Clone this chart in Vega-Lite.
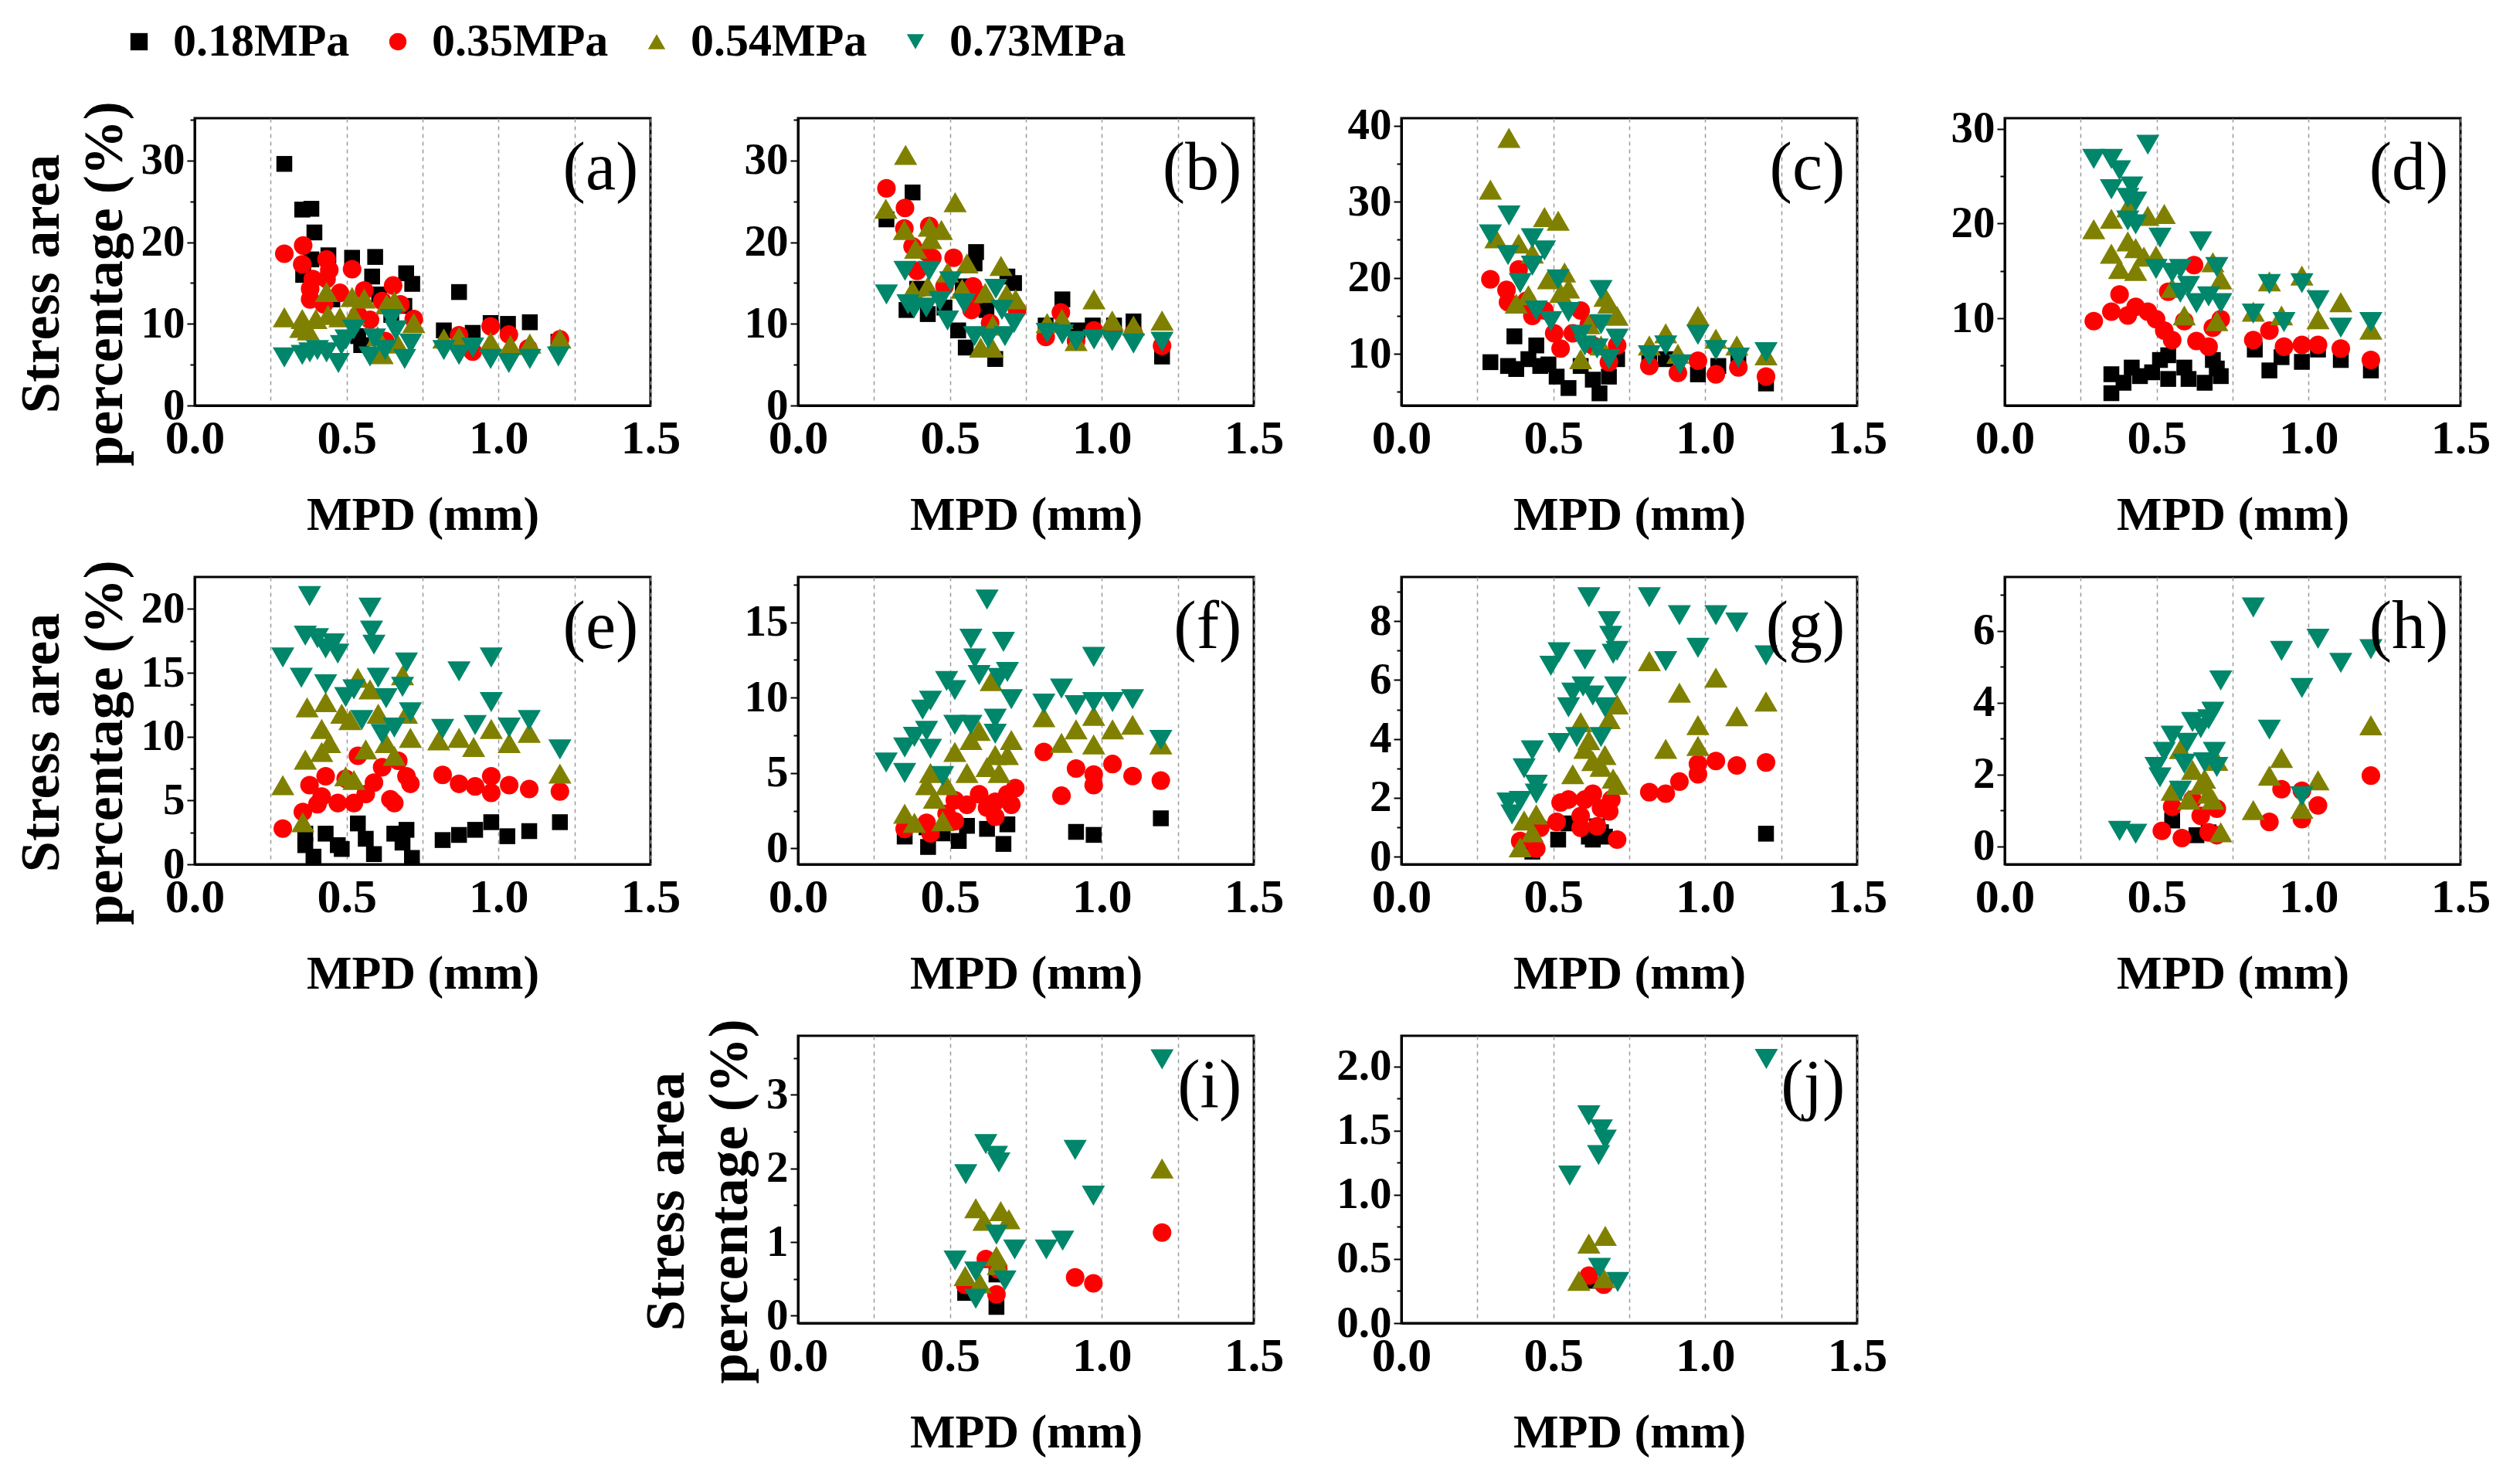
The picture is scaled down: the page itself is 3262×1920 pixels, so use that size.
{
  "$schema": "https://vega.github.io/schema/vega-lite/v6.json",
  "description": "Stress area percentage against MPD for four tyre pressures, panels (a) to (j).",
  "background": "white",
  "padding": {"left": 15, "top": 24, "right": 5, "bottom": 5},
  "datasets": {
    "pts": [
      {"panel":"a","pressure":"0.18MPa","mpd":0.295,"pct":29.6},{"panel":"a","pressure":"0.18MPa","mpd":0.354,"pct":24.0},{"panel":"a","pressure":"0.18MPa","mpd":0.384,"pct":24.1},{"panel":"a","pressure":"0.18MPa","mpd":0.394,"pct":21.2},{"panel":"a","pressure":"0.18MPa","mpd":0.384,"pct":17.9},{"panel":"a","pressure":"0.18MPa","mpd":0.357,"pct":16.0},{"panel":"a","pressure":"0.18MPa","mpd":0.44,"pct":18.4},{"panel":"a","pressure":"0.18MPa","mpd":0.518,"pct":18.1},{"panel":"a","pressure":"0.18MPa","mpd":0.594,"pct":18.2},{"panel":"a","pressure":"0.18MPa","mpd":0.584,"pct":15.8},{"panel":"a","pressure":"0.18MPa","mpd":0.607,"pct":13.6},{"panel":"a","pressure":"0.18MPa","mpd":0.696,"pct":16.2},{"panel":"a","pressure":"0.18MPa","mpd":0.716,"pct":14.9},{"panel":"a","pressure":"0.18MPa","mpd":0.69,"pct":12.2},{"panel":"a","pressure":"0.18MPa","mpd":0.87,"pct":13.9},{"panel":"a","pressure":"0.18MPa","mpd":0.82,"pct":9.2},{"panel":"a","pressure":"0.18MPa","mpd":0.915,"pct":8.9},{"panel":"a","pressure":"0.18MPa","mpd":0.974,"pct":10.1},{"panel":"a","pressure":"0.18MPa","mpd":1.031,"pct":10.0},{"panel":"a","pressure":"0.18MPa","mpd":1.103,"pct":10.2},{"panel":"a","pressure":"0.18MPa","mpd":1.197,"pct":7.8},{"panel":"a","pressure":"0.18MPa","mpd":0.548,"pct":7.4},{"panel":"a","pressure":"0.18MPa","mpd":0.538,"pct":8.5},{"panel":"a","pressure":"0.18MPa","mpd":0.647,"pct":11.1},{"panel":"a","pressure":"0.18MPa","mpd":0.453,"pct":13.0},
      {"panel":"a","pressure":"0.35MPa","mpd":0.295,"pct":18.6},{"panel":"a","pressure":"0.35MPa","mpd":0.357,"pct":19.6},{"panel":"a","pressure":"0.35MPa","mpd":0.354,"pct":17.3},{"panel":"a","pressure":"0.35MPa","mpd":0.434,"pct":17.9},{"panel":"a","pressure":"0.35MPa","mpd":0.443,"pct":16.6},{"panel":"a","pressure":"0.35MPa","mpd":0.518,"pct":16.7},{"panel":"a","pressure":"0.35MPa","mpd":0.389,"pct":15.5},{"panel":"a","pressure":"0.35MPa","mpd":0.434,"pct":15.5},{"panel":"a","pressure":"0.35MPa","mpd":0.38,"pct":14.3},{"panel":"a","pressure":"0.35MPa","mpd":0.38,"pct":13.0},{"panel":"a","pressure":"0.35MPa","mpd":0.478,"pct":13.8},{"panel":"a","pressure":"0.35MPa","mpd":0.558,"pct":14.1},{"panel":"a","pressure":"0.35MPa","mpd":0.653,"pct":14.7},{"panel":"a","pressure":"0.35MPa","mpd":0.617,"pct":12.8},{"panel":"a","pressure":"0.35MPa","mpd":0.677,"pct":12.4},{"panel":"a","pressure":"0.35MPa","mpd":0.721,"pct":10.6},{"panel":"a","pressure":"0.35MPa","mpd":0.577,"pct":10.5},{"panel":"a","pressure":"0.35MPa","mpd":0.87,"pct":8.6},{"panel":"a","pressure":"0.35MPa","mpd":0.974,"pct":9.7},{"panel":"a","pressure":"0.35MPa","mpd":1.034,"pct":8.7},{"panel":"a","pressure":"0.35MPa","mpd":0.915,"pct":6.6},{"panel":"a","pressure":"0.35MPa","mpd":1.098,"pct":7.0},{"panel":"a","pressure":"0.35MPa","mpd":1.202,"pct":8.1},{"panel":"a","pressure":"0.35MPa","mpd":0.425,"pct":12.4},{"panel":"a","pressure":"0.35MPa","mpd":0.538,"pct":11.1},{"panel":"a","pressure":"0.35MPa","mpd":0.627,"pct":7.9},
      {"panel":"a","pressure":"0.54MPa","mpd":0.295,"pct":10.8},{"panel":"a","pressure":"0.54MPa","mpd":0.354,"pct":10.6},{"panel":"a","pressure":"0.54MPa","mpd":0.349,"pct":9.5},{"panel":"a","pressure":"0.54MPa","mpd":0.374,"pct":9.2},{"panel":"a","pressure":"0.54MPa","mpd":0.399,"pct":10.6},{"panel":"a","pressure":"0.54MPa","mpd":0.434,"pct":13.9},{"panel":"a","pressure":"0.54MPa","mpd":0.439,"pct":11.1},{"panel":"a","pressure":"0.54MPa","mpd":0.478,"pct":10.8},{"panel":"a","pressure":"0.54MPa","mpd":0.518,"pct":13.3},{"panel":"a","pressure":"0.54MPa","mpd":0.558,"pct":13.1},{"panel":"a","pressure":"0.54MPa","mpd":0.523,"pct":11.1},{"panel":"a","pressure":"0.54MPa","mpd":0.602,"pct":8.5},{"panel":"a","pressure":"0.54MPa","mpd":0.632,"pct":12.4},{"panel":"a","pressure":"0.54MPa","mpd":0.657,"pct":12.8},{"panel":"a","pressure":"0.54MPa","mpd":0.667,"pct":7.6},{"panel":"a","pressure":"0.54MPa","mpd":0.721,"pct":10.1},{"panel":"a","pressure":"0.54MPa","mpd":0.617,"pct":6.3},{"panel":"a","pressure":"0.54MPa","mpd":0.82,"pct":8.2},{"panel":"a","pressure":"0.54MPa","mpd":0.87,"pct":8.4},{"panel":"a","pressure":"0.54MPa","mpd":0.974,"pct":7.8},{"panel":"a","pressure":"0.54MPa","mpd":1.039,"pct":7.4},{"panel":"a","pressure":"0.54MPa","mpd":1.103,"pct":7.6},{"panel":"a","pressure":"0.54MPa","mpd":1.202,"pct":8.2},
      {"panel":"a","pressure":"0.73MPa","mpd":0.295,"pct":5.9},{"panel":"a","pressure":"0.73MPa","mpd":0.354,"pct":6.2},{"panel":"a","pressure":"0.73MPa","mpd":0.379,"pct":6.5},{"panel":"a","pressure":"0.73MPa","mpd":0.404,"pct":6.8},{"panel":"a","pressure":"0.73MPa","mpd":0.434,"pct":6.5},{"panel":"a","pressure":"0.73MPa","mpd":0.473,"pct":5.2},{"panel":"a","pressure":"0.73MPa","mpd":0.483,"pct":7.4},{"panel":"a","pressure":"0.73MPa","mpd":0.523,"pct":9.3},{"panel":"a","pressure":"0.73MPa","mpd":0.498,"pct":8.1},{"panel":"a","pressure":"0.73MPa","mpd":0.577,"pct":6.0},{"panel":"a","pressure":"0.73MPa","mpd":0.592,"pct":8.2},{"panel":"a","pressure":"0.73MPa","mpd":0.627,"pct":6.8},{"panel":"a","pressure":"0.73MPa","mpd":0.647,"pct":10.6},{"panel":"a","pressure":"0.73MPa","mpd":0.662,"pct":9.2},{"panel":"a","pressure":"0.73MPa","mpd":0.691,"pct":5.7},{"panel":"a","pressure":"0.73MPa","mpd":0.711,"pct":7.6},{"panel":"a","pressure":"0.73MPa","mpd":0.82,"pct":6.8},{"panel":"a","pressure":"0.73MPa","mpd":0.87,"pct":6.2},{"panel":"a","pressure":"0.73MPa","mpd":0.915,"pct":7.1},{"panel":"a","pressure":"0.73MPa","mpd":0.974,"pct":5.7},{"panel":"a","pressure":"0.73MPa","mpd":1.034,"pct":5.2},{"panel":"a","pressure":"0.73MPa","mpd":1.103,"pct":5.7},{"panel":"a","pressure":"0.73MPa","mpd":1.197,"pct":6.0},

      {"panel":"b","pressure":"0.18MPa","mpd":0.377,"pct":26.1},{"panel":"b","pressure":"0.18MPa","mpd":0.291,"pct":22.8},{"panel":"b","pressure":"0.18MPa","mpd":0.586,"pct":18.8},{"panel":"b","pressure":"0.18MPa","mpd":0.581,"pct":17.4},{"panel":"b","pressure":"0.18MPa","mpd":0.711,"pct":15.0},{"panel":"b","pressure":"0.18MPa","mpd":0.689,"pct":15.8},{"panel":"b","pressure":"0.18MPa","mpd":0.357,"pct":11.7},{"panel":"b","pressure":"0.18MPa","mpd":0.427,"pct":11.2},{"panel":"b","pressure":"0.18MPa","mpd":0.482,"pct":12.0},{"panel":"b","pressure":"0.18MPa","mpd":0.527,"pct":9.2},{"panel":"b","pressure":"0.18MPa","mpd":0.552,"pct":7.1},{"panel":"b","pressure":"0.18MPa","mpd":0.649,"pct":5.7},{"panel":"b","pressure":"0.18MPa","mpd":0.87,"pct":13.0},{"panel":"b","pressure":"0.18MPa","mpd":0.815,"pct":9.8},{"panel":"b","pressure":"0.18MPa","mpd":0.92,"pct":9.2},{"panel":"b","pressure":"0.18MPa","mpd":0.97,"pct":9.8},{"panel":"b","pressure":"0.18MPa","mpd":1.04,"pct":9.8},{"panel":"b","pressure":"0.18MPa","mpd":1.104,"pct":10.3},{"panel":"b","pressure":"0.18MPa","mpd":1.198,"pct":6.0},{"panel":"b","pressure":"0.18MPa","mpd":0.392,"pct":14.3},{"panel":"b","pressure":"0.18MPa","mpd":0.542,"pct":14.6},{"panel":"b","pressure":"0.18MPa","mpd":0.62,"pct":11.7},
      {"panel":"b","pressure":"0.35MPa","mpd":0.291,"pct":26.6},{"panel":"b","pressure":"0.35MPa","mpd":0.352,"pct":24.2},{"panel":"b","pressure":"0.35MPa","mpd":0.35,"pct":21.7},{"panel":"b","pressure":"0.35MPa","mpd":0.432,"pct":22.0},{"panel":"b","pressure":"0.35MPa","mpd":0.377,"pct":19.5},{"panel":"b","pressure":"0.35MPa","mpd":0.422,"pct":18.8},{"panel":"b","pressure":"0.35MPa","mpd":0.512,"pct":18.1},{"panel":"b","pressure":"0.35MPa","mpd":0.392,"pct":16.5},{"panel":"b","pressure":"0.35MPa","mpd":0.576,"pct":14.6},{"panel":"b","pressure":"0.35MPa","mpd":0.482,"pct":14.6},{"panel":"b","pressure":"0.35MPa","mpd":0.596,"pct":13.6},{"panel":"b","pressure":"0.35MPa","mpd":0.721,"pct":11.7},{"panel":"b","pressure":"0.35MPa","mpd":0.632,"pct":10.1},{"panel":"b","pressure":"0.35MPa","mpd":0.571,"pct":11.7},{"panel":"b","pressure":"0.35MPa","mpd":0.865,"pct":11.4},{"panel":"b","pressure":"0.35MPa","mpd":0.815,"pct":8.4},{"panel":"b","pressure":"0.35MPa","mpd":0.915,"pct":7.9},{"panel":"b","pressure":"0.35MPa","mpd":0.974,"pct":9.2},{"panel":"b","pressure":"0.35MPa","mpd":1.034,"pct":8.9},{"panel":"b","pressure":"0.35MPa","mpd":1.104,"pct":8.9},{"panel":"b","pressure":"0.35MPa","mpd":1.198,"pct":7.3},{"panel":"b","pressure":"0.35MPa","mpd":0.442,"pct":18.1},
      {"panel":"b","pressure":"0.54MPa","mpd":0.354,"pct":30.7},{"panel":"b","pressure":"0.54MPa","mpd":0.289,"pct":24.1},{"panel":"b","pressure":"0.54MPa","mpd":0.517,"pct":24.9},{"panel":"b","pressure":"0.54MPa","mpd":0.35,"pct":21.5},{"panel":"b","pressure":"0.54MPa","mpd":0.432,"pct":21.9},{"panel":"b","pressure":"0.54MPa","mpd":0.472,"pct":21.5},{"panel":"b","pressure":"0.54MPa","mpd":0.437,"pct":20.4},{"panel":"b","pressure":"0.54MPa","mpd":0.387,"pct":19.2},{"panel":"b","pressure":"0.54MPa","mpd":0.556,"pct":17.4},{"panel":"b","pressure":"0.54MPa","mpd":0.668,"pct":17.1},{"panel":"b","pressure":"0.54MPa","mpd":0.492,"pct":16.3},{"panel":"b","pressure":"0.54MPa","mpd":0.377,"pct":14.1},{"panel":"b","pressure":"0.54MPa","mpd":0.427,"pct":14.6},{"panel":"b","pressure":"0.54MPa","mpd":0.54,"pct":14.3},{"panel":"b","pressure":"0.54MPa","mpd":0.616,"pct":13.8},{"panel":"b","pressure":"0.54MPa","mpd":0.686,"pct":13.6},{"panel":"b","pressure":"0.54MPa","mpd":0.716,"pct":13.0},{"panel":"b","pressure":"0.54MPa","mpd":0.641,"pct":9.8},{"panel":"b","pressure":"0.54MPa","mpd":0.601,"pct":7.1},{"panel":"b","pressure":"0.54MPa","mpd":0.639,"pct":7.1},{"panel":"b","pressure":"0.54MPa","mpd":0.82,"pct":10.1},{"panel":"b","pressure":"0.54MPa","mpd":0.869,"pct":10.6},{"panel":"b","pressure":"0.54MPa","mpd":0.974,"pct":13.0},{"panel":"b","pressure":"0.54MPa","mpd":1.034,"pct":10.4},{"panel":"b","pressure":"0.54MPa","mpd":1.104,"pct":9.8},{"panel":"b","pressure":"0.54MPa","mpd":1.198,"pct":10.4},{"panel":"b","pressure":"0.54MPa","mpd":0.915,"pct":7.9},
      {"panel":"b","pressure":"0.73MPa","mpd":0.291,"pct":13.6},{"panel":"b","pressure":"0.73MPa","mpd":0.352,"pct":16.5},{"panel":"b","pressure":"0.73MPa","mpd":0.432,"pct":16.5},{"panel":"b","pressure":"0.73MPa","mpd":0.502,"pct":15.2},{"panel":"b","pressure":"0.73MPa","mpd":0.362,"pct":12.4},{"panel":"b","pressure":"0.73MPa","mpd":0.382,"pct":11.9},{"panel":"b","pressure":"0.73MPa","mpd":0.422,"pct":12.0},{"panel":"b","pressure":"0.73MPa","mpd":0.467,"pct":12.8},{"panel":"b","pressure":"0.73MPa","mpd":0.492,"pct":10.4},{"panel":"b","pressure":"0.73MPa","mpd":0.547,"pct":12.5},{"panel":"b","pressure":"0.73MPa","mpd":0.581,"pct":8.5},{"panel":"b","pressure":"0.73MPa","mpd":0.626,"pct":8.2},{"panel":"b","pressure":"0.73MPa","mpd":0.651,"pct":14.3},{"panel":"b","pressure":"0.73MPa","mpd":0.671,"pct":11.7},{"panel":"b","pressure":"0.73MPa","mpd":0.681,"pct":8.5},{"panel":"b","pressure":"0.73MPa","mpd":0.711,"pct":10.1},{"panel":"b","pressure":"0.73MPa","mpd":0.82,"pct":8.9},{"panel":"b","pressure":"0.73MPa","mpd":0.87,"pct":8.7},{"panel":"b","pressure":"0.73MPa","mpd":0.915,"pct":7.9},{"panel":"b","pressure":"0.73MPa","mpd":0.974,"pct":8.1},{"panel":"b","pressure":"0.73MPa","mpd":1.034,"pct":7.9},{"panel":"b","pressure":"0.73MPa","mpd":1.104,"pct":7.6},{"panel":"b","pressure":"0.73MPa","mpd":1.198,"pct":7.8},

      {"panel":"c","pressure":"0.18MPa","mpd":0.293,"pct":8.9},{"panel":"c","pressure":"0.18MPa","mpd":0.351,"pct":8.4},{"panel":"c","pressure":"0.18MPa","mpd":0.372,"pct":12.3},{"panel":"c","pressure":"0.18MPa","mpd":0.418,"pct":9.3},{"panel":"c","pressure":"0.18MPa","mpd":0.444,"pct":11.1},{"panel":"c","pressure":"0.18MPa","mpd":0.484,"pct":8.6},{"panel":"c","pressure":"0.18MPa","mpd":0.511,"pct":7.0},{"panel":"c","pressure":"0.18MPa","mpd":0.55,"pct":5.5},{"panel":"c","pressure":"0.18MPa","mpd":0.378,"pct":8.0},{"panel":"c","pressure":"0.18MPa","mpd":0.63,"pct":6.6},{"panel":"c","pressure":"0.18MPa","mpd":0.652,"pct":4.8},{"panel":"c","pressure":"0.18MPa","mpd":0.683,"pct":7.0},{"panel":"c","pressure":"0.18MPa","mpd":0.71,"pct":9.3},{"panel":"c","pressure":"0.18MPa","mpd":0.59,"pct":8.4},{"panel":"c","pressure":"0.18MPa","mpd":0.457,"pct":8.4},{"panel":"c","pressure":"0.18MPa","mpd":0.816,"pct":9.1},{"panel":"c","pressure":"0.18MPa","mpd":0.87,"pct":9.3},{"panel":"c","pressure":"0.18MPa","mpd":0.976,"pct":7.3},{"panel":"c","pressure":"0.18MPa","mpd":1.043,"pct":8.4},{"panel":"c","pressure":"0.18MPa","mpd":1.109,"pct":9.3},{"panel":"c","pressure":"0.18MPa","mpd":1.2,"pct":6.1},
      {"panel":"c","pressure":"0.35MPa","mpd":0.293,"pct":19.8},{"panel":"c","pressure":"0.35MPa","mpd":0.346,"pct":18.4},{"panel":"c","pressure":"0.35MPa","mpd":0.351,"pct":16.8},{"panel":"c","pressure":"0.35MPa","mpd":0.386,"pct":21.1},{"panel":"c","pressure":"0.35MPa","mpd":0.412,"pct":17.0},{"panel":"c","pressure":"0.35MPa","mpd":0.431,"pct":15.0},{"panel":"c","pressure":"0.35MPa","mpd":0.471,"pct":15.7},{"panel":"c","pressure":"0.35MPa","mpd":0.503,"pct":12.7},{"panel":"c","pressure":"0.35MPa","mpd":0.524,"pct":10.7},{"panel":"c","pressure":"0.35MPa","mpd":0.59,"pct":15.7},{"panel":"c","pressure":"0.35MPa","mpd":0.63,"pct":11.1},{"panel":"c","pressure":"0.35MPa","mpd":0.683,"pct":8.9},{"panel":"c","pressure":"0.35MPa","mpd":0.71,"pct":11.1},{"panel":"c","pressure":"0.35MPa","mpd":0.816,"pct":8.4},{"panel":"c","pressure":"0.35MPa","mpd":0.91,"pct":7.5},{"panel":"c","pressure":"0.35MPa","mpd":0.976,"pct":9.1},{"panel":"c","pressure":"0.35MPa","mpd":1.035,"pct":7.3},{"panel":"c","pressure":"0.35MPa","mpd":1.109,"pct":8.2},{"panel":"c","pressure":"0.35MPa","mpd":1.2,"pct":7.0},{"panel":"c","pressure":"0.35MPa","mpd":0.564,"pct":12.7},{"panel":"c","pressure":"0.35MPa","mpd":0.617,"pct":13.9},
      {"panel":"c","pressure":"0.54MPa","mpd":0.354,"pct":38.4},{"panel":"c","pressure":"0.54MPa","mpd":0.293,"pct":31.6},{"panel":"c","pressure":"0.54MPa","mpd":0.311,"pct":25.2},{"panel":"c","pressure":"0.54MPa","mpd":0.471,"pct":28.0},{"panel":"c","pressure":"0.54MPa","mpd":0.516,"pct":27.5},{"panel":"c","pressure":"0.54MPa","mpd":0.386,"pct":24.5},{"panel":"c","pressure":"0.54MPa","mpd":0.431,"pct":23.2},{"panel":"c","pressure":"0.54MPa","mpd":0.537,"pct":20.7},{"panel":"c","pressure":"0.54MPa","mpd":0.484,"pct":19.8},{"panel":"c","pressure":"0.54MPa","mpd":0.418,"pct":17.7},{"panel":"c","pressure":"0.54MPa","mpd":0.378,"pct":16.6},{"panel":"c","pressure":"0.54MPa","mpd":0.524,"pct":18.0},{"panel":"c","pressure":"0.54MPa","mpd":0.55,"pct":18.6},{"panel":"c","pressure":"0.54MPa","mpd":0.67,"pct":17.5},{"panel":"c","pressure":"0.54MPa","mpd":0.683,"pct":16.6},{"panel":"c","pressure":"0.54MPa","mpd":0.71,"pct":15.0},{"panel":"c","pressure":"0.54MPa","mpd":0.617,"pct":13.9},{"panel":"c","pressure":"0.54MPa","mpd":0.59,"pct":9.3},{"panel":"c","pressure":"0.54MPa","mpd":0.657,"pct":11.1},{"panel":"c","pressure":"0.54MPa","mpd":0.816,"pct":11.1},{"panel":"c","pressure":"0.54MPa","mpd":0.87,"pct":12.7},{"panel":"c","pressure":"0.54MPa","mpd":0.976,"pct":15.0},{"panel":"c","pressure":"0.54MPa","mpd":1.035,"pct":12.0},{"panel":"c","pressure":"0.54MPa","mpd":1.104,"pct":11.1},{"panel":"c","pressure":"0.54MPa","mpd":1.2,"pct":9.8},{"panel":"c","pressure":"0.54MPa","mpd":0.91,"pct":10.0},
      {"panel":"c","pressure":"0.73MPa","mpd":0.293,"pct":25.7},{"panel":"c","pressure":"0.73MPa","mpd":0.354,"pct":28.2},{"panel":"c","pressure":"0.73MPa","mpd":0.351,"pct":23.0},{"panel":"c","pressure":"0.73MPa","mpd":0.431,"pct":25.2},{"panel":"c","pressure":"0.73MPa","mpd":0.471,"pct":23.6},{"panel":"c","pressure":"0.73MPa","mpd":0.391,"pct":19.3},{"panel":"c","pressure":"0.73MPa","mpd":0.431,"pct":21.6},{"panel":"c","pressure":"0.73MPa","mpd":0.444,"pct":15.7},{"panel":"c","pressure":"0.73MPa","mpd":0.516,"pct":19.8},{"panel":"c","pressure":"0.73MPa","mpd":0.492,"pct":14.3},{"panel":"c","pressure":"0.73MPa","mpd":0.55,"pct":15.5},{"panel":"c","pressure":"0.73MPa","mpd":0.59,"pct":12.5},{"panel":"c","pressure":"0.73MPa","mpd":0.604,"pct":11.1},{"panel":"c","pressure":"0.73MPa","mpd":0.657,"pct":18.4},{"panel":"c","pressure":"0.73MPa","mpd":0.657,"pct":13.9},{"panel":"c","pressure":"0.73MPa","mpd":0.644,"pct":10.7},{"panel":"c","pressure":"0.73MPa","mpd":0.683,"pct":9.3},{"panel":"c","pressure":"0.73MPa","mpd":0.71,"pct":12.0},{"panel":"c","pressure":"0.73MPa","mpd":0.816,"pct":9.8},{"panel":"c","pressure":"0.73MPa","mpd":0.87,"pct":11.1},{"panel":"c","pressure":"0.73MPa","mpd":0.917,"pct":8.6},{"panel":"c","pressure":"0.73MPa","mpd":0.976,"pct":12.5},{"panel":"c","pressure":"0.73MPa","mpd":1.035,"pct":10.5},{"panel":"c","pressure":"0.73MPa","mpd":1.109,"pct":9.5},{"panel":"c","pressure":"0.73MPa","mpd":1.2,"pct":10.2},

      {"panel":"d","pressure":"0.18MPa","mpd":0.351,"pct":2.1},{"panel":"d","pressure":"0.18MPa","mpd":0.351,"pct":4.1},{"panel":"d","pressure":"0.18MPa","mpd":0.391,"pct":3.2},{"panel":"d","pressure":"0.18MPa","mpd":0.418,"pct":4.8},{"panel":"d","pressure":"0.18MPa","mpd":0.445,"pct":3.9},{"panel":"d","pressure":"0.18MPa","mpd":0.485,"pct":4.3},{"panel":"d","pressure":"0.18MPa","mpd":0.511,"pct":5.6},{"panel":"d","pressure":"0.18MPa","mpd":0.538,"pct":6.1},{"panel":"d","pressure":"0.18MPa","mpd":0.538,"pct":3.6},{"panel":"d","pressure":"0.18MPa","mpd":0.591,"pct":4.8},{"panel":"d","pressure":"0.18MPa","mpd":0.605,"pct":3.6},{"panel":"d","pressure":"0.18MPa","mpd":0.658,"pct":3.2},{"panel":"d","pressure":"0.18MPa","mpd":0.685,"pct":5.6},{"panel":"d","pressure":"0.18MPa","mpd":0.711,"pct":3.9},{"panel":"d","pressure":"0.18MPa","mpd":0.698,"pct":4.7},{"panel":"d","pressure":"0.18MPa","mpd":0.823,"pct":6.7},{"panel":"d","pressure":"0.18MPa","mpd":0.871,"pct":4.5},{"panel":"d","pressure":"0.18MPa","mpd":0.911,"pct":5.9},{"panel":"d","pressure":"0.18MPa","mpd":0.978,"pct":5.4},{"panel":"d","pressure":"0.18MPa","mpd":1.031,"pct":6.7},{"panel":"d","pressure":"0.18MPa","mpd":1.106,"pct":5.6},{"panel":"d","pressure":"0.18MPa","mpd":1.205,"pct":4.5},
      {"panel":"d","pressure":"0.35MPa","mpd":0.293,"pct":9.7},{"panel":"d","pressure":"0.35MPa","mpd":0.351,"pct":10.7},{"panel":"d","pressure":"0.35MPa","mpd":0.378,"pct":12.5},{"panel":"d","pressure":"0.35MPa","mpd":0.405,"pct":10.3},{"panel":"d","pressure":"0.35MPa","mpd":0.431,"pct":11.2},{"panel":"d","pressure":"0.35MPa","mpd":0.471,"pct":10.7},{"panel":"d","pressure":"0.35MPa","mpd":0.498,"pct":9.9},{"panel":"d","pressure":"0.35MPa","mpd":0.525,"pct":8.7},{"panel":"d","pressure":"0.35MPa","mpd":0.551,"pct":7.7},{"panel":"d","pressure":"0.35MPa","mpd":0.538,"pct":12.8},{"panel":"d","pressure":"0.35MPa","mpd":0.591,"pct":9.7},{"panel":"d","pressure":"0.35MPa","mpd":0.623,"pct":15.6},{"panel":"d","pressure":"0.35MPa","mpd":0.631,"pct":7.6},{"panel":"d","pressure":"0.35MPa","mpd":0.671,"pct":7.0},{"panel":"d","pressure":"0.35MPa","mpd":0.685,"pct":9.0},{"panel":"d","pressure":"0.35MPa","mpd":0.711,"pct":9.9},{"panel":"d","pressure":"0.35MPa","mpd":0.818,"pct":7.7},{"panel":"d","pressure":"0.35MPa","mpd":0.871,"pct":8.7},{"panel":"d","pressure":"0.35MPa","mpd":0.919,"pct":7.0},{"panel":"d","pressure":"0.35MPa","mpd":0.978,"pct":7.2},{"panel":"d","pressure":"0.35MPa","mpd":1.031,"pct":7.2},{"panel":"d","pressure":"0.35MPa","mpd":1.106,"pct":6.8},{"panel":"d","pressure":"0.35MPa","mpd":1.205,"pct":5.6},
      {"panel":"d","pressure":"0.54MPa","mpd":0.293,"pct":19.4},{"panel":"d","pressure":"0.54MPa","mpd":0.351,"pct":20.5},{"panel":"d","pressure":"0.54MPa","mpd":0.351,"pct":16.8},{"panel":"d","pressure":"0.54MPa","mpd":0.378,"pct":15.2},{"panel":"d","pressure":"0.54MPa","mpd":0.405,"pct":18.1},{"panel":"d","pressure":"0.54MPa","mpd":0.431,"pct":15.0},{"panel":"d","pressure":"0.54MPa","mpd":0.431,"pct":17.4},{"panel":"d","pressure":"0.54MPa","mpd":0.471,"pct":20.8},{"panel":"d","pressure":"0.54MPa","mpd":0.458,"pct":16.5},{"panel":"d","pressure":"0.54MPa","mpd":0.525,"pct":21.0},{"panel":"d","pressure":"0.54MPa","mpd":0.498,"pct":16.6},{"panel":"d","pressure":"0.54MPa","mpd":0.551,"pct":13.2},{"panel":"d","pressure":"0.54MPa","mpd":0.591,"pct":10.3},{"panel":"d","pressure":"0.54MPa","mpd":0.685,"pct":15.9},{"panel":"d","pressure":"0.54MPa","mpd":0.711,"pct":14.1},{"panel":"d","pressure":"0.54MPa","mpd":0.698,"pct":9.7},{"panel":"d","pressure":"0.54MPa","mpd":0.405,"pct":21.7},{"panel":"d","pressure":"0.54MPa","mpd":0.871,"pct":13.9},{"panel":"d","pressure":"0.54MPa","mpd":0.911,"pct":10.3},{"panel":"d","pressure":"0.54MPa","mpd":0.978,"pct":14.5},{"panel":"d","pressure":"0.54MPa","mpd":1.031,"pct":9.9},{"panel":"d","pressure":"0.54MPa","mpd":1.106,"pct":11.7},{"panel":"d","pressure":"0.54MPa","mpd":1.205,"pct":8.8},{"panel":"d","pressure":"0.54MPa","mpd":0.818,"pct":10.7},
      {"panel":"d","pressure":"0.73MPa","mpd":0.293,"pct":26.8},{"panel":"d","pressure":"0.73MPa","mpd":0.351,"pct":26.8},{"panel":"d","pressure":"0.73MPa","mpd":0.378,"pct":25.6},{"panel":"d","pressure":"0.73MPa","mpd":0.351,"pct":23.6},{"panel":"d","pressure":"0.73MPa","mpd":0.418,"pct":23.9},{"panel":"d","pressure":"0.73MPa","mpd":0.405,"pct":22.7},{"panel":"d","pressure":"0.73MPa","mpd":0.431,"pct":22.3},{"panel":"d","pressure":"0.73MPa","mpd":0.405,"pct":20.3},{"panel":"d","pressure":"0.73MPa","mpd":0.431,"pct":19.9},{"panel":"d","pressure":"0.73MPa","mpd":0.471,"pct":28.3},{"panel":"d","pressure":"0.73MPa","mpd":0.511,"pct":18.5},{"panel":"d","pressure":"0.73MPa","mpd":0.498,"pct":15.2},{"panel":"d","pressure":"0.73MPa","mpd":0.551,"pct":14.8},{"panel":"d","pressure":"0.73MPa","mpd":0.578,"pct":15.2},{"panel":"d","pressure":"0.73MPa","mpd":0.645,"pct":18.1},{"panel":"d","pressure":"0.73MPa","mpd":0.578,"pct":12.7},{"panel":"d","pressure":"0.73MPa","mpd":0.631,"pct":11.6},{"panel":"d","pressure":"0.73MPa","mpd":0.605,"pct":13.4},{"panel":"d","pressure":"0.73MPa","mpd":0.671,"pct":12.3},{"panel":"d","pressure":"0.73MPa","mpd":0.698,"pct":15.4},{"panel":"d","pressure":"0.73MPa","mpd":0.711,"pct":11.6},{"panel":"d","pressure":"0.73MPa","mpd":0.818,"pct":10.5},{"panel":"d","pressure":"0.73MPa","mpd":0.871,"pct":13.6},{"panel":"d","pressure":"0.73MPa","mpd":0.919,"pct":9.6},{"panel":"d","pressure":"0.73MPa","mpd":0.978,"pct":13.7},{"panel":"d","pressure":"0.73MPa","mpd":1.031,"pct":11.9},{"panel":"d","pressure":"0.73MPa","mpd":1.106,"pct":9.0},{"panel":"d","pressure":"0.73MPa","mpd":1.205,"pct":9.6},

      {"panel":"e","pressure":"0.18MPa","mpd":0.364,"pct":1.5},{"panel":"e","pressure":"0.18MPa","mpd":0.391,"pct":0.6},{"panel":"e","pressure":"0.18MPa","mpd":0.431,"pct":2.4},{"panel":"e","pressure":"0.18MPa","mpd":0.471,"pct":1.5},{"panel":"e","pressure":"0.18MPa","mpd":0.537,"pct":3.2},{"panel":"e","pressure":"0.18MPa","mpd":0.563,"pct":2.0},{"panel":"e","pressure":"0.18MPa","mpd":0.59,"pct":0.8},{"panel":"e","pressure":"0.18MPa","mpd":0.657,"pct":2.4},{"panel":"e","pressure":"0.18MPa","mpd":0.684,"pct":1.7},{"panel":"e","pressure":"0.18MPa","mpd":0.697,"pct":2.7},{"panel":"e","pressure":"0.18MPa","mpd":0.715,"pct":0.5},{"panel":"e","pressure":"0.18MPa","mpd":0.364,"pct":2.4},{"panel":"e","pressure":"0.18MPa","mpd":0.484,"pct":1.2},{"panel":"e","pressure":"0.18MPa","mpd":0.816,"pct":1.9},{"panel":"e","pressure":"0.18MPa","mpd":0.87,"pct":2.3},{"panel":"e","pressure":"0.18MPa","mpd":0.923,"pct":2.7},{"panel":"e","pressure":"0.18MPa","mpd":0.976,"pct":3.3},{"panel":"e","pressure":"0.18MPa","mpd":1.029,"pct":2.2},{"panel":"e","pressure":"0.18MPa","mpd":1.101,"pct":2.6},{"panel":"e","pressure":"0.18MPa","mpd":1.202,"pct":3.3},
      {"panel":"e","pressure":"0.35MPa","mpd":0.29,"pct":2.8},{"panel":"e","pressure":"0.35MPa","mpd":0.356,"pct":4.1},{"panel":"e","pressure":"0.35MPa","mpd":0.378,"pct":6.2},{"panel":"e","pressure":"0.35MPa","mpd":0.418,"pct":5.3},{"panel":"e","pressure":"0.35MPa","mpd":0.431,"pct":6.9},{"panel":"e","pressure":"0.35MPa","mpd":0.404,"pct":4.7},{"panel":"e","pressure":"0.35MPa","mpd":0.471,"pct":4.8},{"panel":"e","pressure":"0.35MPa","mpd":0.524,"pct":4.8},{"panel":"e","pressure":"0.35MPa","mpd":0.537,"pct":8.5},{"panel":"e","pressure":"0.35MPa","mpd":0.59,"pct":6.4},{"panel":"e","pressure":"0.35MPa","mpd":0.563,"pct":5.5},{"panel":"e","pressure":"0.35MPa","mpd":0.617,"pct":7.6},{"panel":"e","pressure":"0.35MPa","mpd":0.644,"pct":5.1},{"panel":"e","pressure":"0.35MPa","mpd":0.657,"pct":4.8},{"panel":"e","pressure":"0.35MPa","mpd":0.67,"pct":8.1},{"panel":"e","pressure":"0.35MPa","mpd":0.697,"pct":6.9},{"panel":"e","pressure":"0.35MPa","mpd":0.71,"pct":6.3},{"panel":"e","pressure":"0.35MPa","mpd":0.816,"pct":7.0},{"panel":"e","pressure":"0.35MPa","mpd":0.87,"pct":6.3},{"panel":"e","pressure":"0.35MPa","mpd":0.923,"pct":6.1},{"panel":"e","pressure":"0.35MPa","mpd":0.976,"pct":6.9},{"panel":"e","pressure":"0.35MPa","mpd":0.976,"pct":5.6},{"panel":"e","pressure":"0.35MPa","mpd":1.035,"pct":6.2},{"panel":"e","pressure":"0.35MPa","mpd":1.101,"pct":5.9},{"panel":"e","pressure":"0.35MPa","mpd":1.202,"pct":5.7},{"panel":"e","pressure":"0.35MPa","mpd":0.497,"pct":6.7},
      {"panel":"e","pressure":"0.54MPa","mpd":0.29,"pct":6.2},{"panel":"e","pressure":"0.54MPa","mpd":0.356,"pct":3.3},{"panel":"e","pressure":"0.54MPa","mpd":0.364,"pct":8.2},{"panel":"e","pressure":"0.54MPa","mpd":0.37,"pct":12.3},{"panel":"e","pressure":"0.54MPa","mpd":0.418,"pct":10.6},{"panel":"e","pressure":"0.54MPa","mpd":0.431,"pct":12.7},{"panel":"e","pressure":"0.54MPa","mpd":0.418,"pct":8.8},{"panel":"e","pressure":"0.54MPa","mpd":0.444,"pct":9.5},{"panel":"e","pressure":"0.54MPa","mpd":0.484,"pct":11.8},{"panel":"e","pressure":"0.54MPa","mpd":0.511,"pct":11.3},{"panel":"e","pressure":"0.54MPa","mpd":0.537,"pct":14.6},{"panel":"e","pressure":"0.54MPa","mpd":0.524,"pct":6.6},{"panel":"e","pressure":"0.54MPa","mpd":0.563,"pct":9.0},{"panel":"e","pressure":"0.54MPa","mpd":0.577,"pct":13.7},{"panel":"e","pressure":"0.54MPa","mpd":0.604,"pct":11.8},{"panel":"e","pressure":"0.54MPa","mpd":0.63,"pct":9.5},{"panel":"e","pressure":"0.54MPa","mpd":0.657,"pct":8.5},{"panel":"e","pressure":"0.54MPa","mpd":0.684,"pct":14.8},{"panel":"e","pressure":"0.54MPa","mpd":0.697,"pct":11.8},{"panel":"e","pressure":"0.54MPa","mpd":0.71,"pct":9.9},{"panel":"e","pressure":"0.54MPa","mpd":0.803,"pct":9.7},{"panel":"e","pressure":"0.54MPa","mpd":0.87,"pct":9.9},{"panel":"e","pressure":"0.54MPa","mpd":0.918,"pct":9.2},{"panel":"e","pressure":"0.54MPa","mpd":0.976,"pct":10.6},{"panel":"e","pressure":"0.54MPa","mpd":1.035,"pct":9.5},{"panel":"e","pressure":"0.54MPa","mpd":1.101,"pct":10.3},{"panel":"e","pressure":"0.54MPa","mpd":1.202,"pct":7.1},{"panel":"e","pressure":"0.54MPa","mpd":0.497,"pct":6.9},
      {"panel":"e","pressure":"0.73MPa","mpd":0.29,"pct":16.2},{"panel":"e","pressure":"0.73MPa","mpd":0.378,"pct":21.0},{"panel":"e","pressure":"0.73MPa","mpd":0.364,"pct":17.9},{"panel":"e","pressure":"0.73MPa","mpd":0.404,"pct":17.7},{"panel":"e","pressure":"0.73MPa","mpd":0.431,"pct":16.9},{"panel":"e","pressure":"0.73MPa","mpd":0.457,"pct":17.3},{"panel":"e","pressure":"0.73MPa","mpd":0.471,"pct":16.5},{"panel":"e","pressure":"0.73MPa","mpd":0.351,"pct":14.6},{"panel":"e","pressure":"0.73MPa","mpd":0.431,"pct":14.1},{"panel":"e","pressure":"0.73MPa","mpd":0.497,"pct":13.1},{"panel":"e","pressure":"0.73MPa","mpd":0.524,"pct":13.7},{"panel":"e","pressure":"0.73MPa","mpd":0.577,"pct":20.1},{"panel":"e","pressure":"0.73MPa","mpd":0.582,"pct":18.3},{"panel":"e","pressure":"0.73MPa","mpd":0.59,"pct":17.2},{"panel":"e","pressure":"0.73MPa","mpd":0.604,"pct":14.6},{"panel":"e","pressure":"0.73MPa","mpd":0.55,"pct":11.3},{"panel":"e","pressure":"0.73MPa","mpd":0.63,"pct":13.0},{"panel":"e","pressure":"0.73MPa","mpd":0.657,"pct":10.7},{"panel":"e","pressure":"0.73MPa","mpd":0.697,"pct":15.8},{"panel":"e","pressure":"0.73MPa","mpd":0.684,"pct":13.9},{"panel":"e","pressure":"0.73MPa","mpd":0.71,"pct":11.9},{"panel":"e","pressure":"0.73MPa","mpd":0.617,"pct":10.2},{"panel":"e","pressure":"0.73MPa","mpd":0.816,"pct":10.6},{"panel":"e","pressure":"0.73MPa","mpd":0.87,"pct":15.1},{"panel":"e","pressure":"0.73MPa","mpd":0.923,"pct":10.9},{"panel":"e","pressure":"0.73MPa","mpd":0.976,"pct":16.2},{"panel":"e","pressure":"0.73MPa","mpd":0.976,"pct":12.7},{"panel":"e","pressure":"0.73MPa","mpd":1.035,"pct":10.7},{"panel":"e","pressure":"0.73MPa","mpd":1.101,"pct":11.3},{"panel":"e","pressure":"0.73MPa","mpd":1.202,"pct":9.0},

      {"panel":"f","pressure":"0.18MPa","mpd":0.351,"pct":0.79},{"panel":"f","pressure":"0.18MPa","mpd":0.428,"pct":0.1},{"panel":"f","pressure":"0.18MPa","mpd":0.476,"pct":1.0},{"panel":"f","pressure":"0.18MPa","mpd":0.529,"pct":0.5},{"panel":"f","pressure":"0.18MPa","mpd":0.556,"pct":1.5},{"panel":"f","pressure":"0.18MPa","mpd":0.622,"pct":1.3},{"panel":"f","pressure":"0.18MPa","mpd":0.676,"pct":0.3},{"panel":"f","pressure":"0.18MPa","mpd":0.689,"pct":1.6},{"panel":"f","pressure":"0.18MPa","mpd":0.423,"pct":1.4},{"panel":"f","pressure":"0.18MPa","mpd":0.915,"pct":1.1},{"panel":"f","pressure":"0.18MPa","mpd":0.973,"pct":0.9},{"panel":"f","pressure":"0.18MPa","mpd":1.194,"pct":2.0},
      {"panel":"f","pressure":"0.35MPa","mpd":0.351,"pct":1.3},{"panel":"f","pressure":"0.35MPa","mpd":0.423,"pct":1.7},{"panel":"f","pressure":"0.35MPa","mpd":0.436,"pct":1.0},{"panel":"f","pressure":"0.35MPa","mpd":0.489,"pct":2.3},{"panel":"f","pressure":"0.35MPa","mpd":0.516,"pct":3.2},{"panel":"f","pressure":"0.35MPa","mpd":0.516,"pct":1.8},{"panel":"f","pressure":"0.35MPa","mpd":0.556,"pct":2.9},{"panel":"f","pressure":"0.35MPa","mpd":0.596,"pct":3.6},{"panel":"f","pressure":"0.35MPa","mpd":0.649,"pct":3.1},{"panel":"f","pressure":"0.35MPa","mpd":0.649,"pct":2.1},{"panel":"f","pressure":"0.35MPa","mpd":0.689,"pct":3.6},{"panel":"f","pressure":"0.35MPa","mpd":0.702,"pct":2.9},{"panel":"f","pressure":"0.35MPa","mpd":0.715,"pct":4.0},{"panel":"f","pressure":"0.35MPa","mpd":0.809,"pct":6.4},{"panel":"f","pressure":"0.35MPa","mpd":0.867,"pct":3.5},{"panel":"f","pressure":"0.35MPa","mpd":0.915,"pct":5.3},{"panel":"f","pressure":"0.35MPa","mpd":0.973,"pct":4.9},{"panel":"f","pressure":"0.35MPa","mpd":0.973,"pct":4.2},{"panel":"f","pressure":"0.35MPa","mpd":1.035,"pct":5.6},{"panel":"f","pressure":"0.35MPa","mpd":1.101,"pct":4.8},{"panel":"f","pressure":"0.35MPa","mpd":1.194,"pct":4.5},{"panel":"f","pressure":"0.35MPa","mpd":0.622,"pct":2.7},
      {"panel":"f","pressure":"0.54MPa","mpd":0.351,"pct":2.3},{"panel":"f","pressure":"0.54MPa","mpd":0.383,"pct":1.7},{"panel":"f","pressure":"0.54MPa","mpd":0.423,"pct":4.2},{"panel":"f","pressure":"0.54MPa","mpd":0.436,"pct":5.0},{"panel":"f","pressure":"0.54MPa","mpd":0.449,"pct":3.3},{"panel":"f","pressure":"0.54MPa","mpd":0.476,"pct":1.8},{"panel":"f","pressure":"0.54MPa","mpd":0.489,"pct":4.2},{"panel":"f","pressure":"0.54MPa","mpd":0.516,"pct":6.4},{"panel":"f","pressure":"0.54MPa","mpd":0.556,"pct":5.0},{"panel":"f","pressure":"0.54MPa","mpd":0.569,"pct":7.2},{"panel":"f","pressure":"0.54MPa","mpd":0.596,"pct":7.8},{"panel":"f","pressure":"0.54MPa","mpd":0.636,"pct":11.1},{"panel":"f","pressure":"0.54MPa","mpd":0.622,"pct":5.4},{"panel":"f","pressure":"0.54MPa","mpd":0.649,"pct":6.2},{"panel":"f","pressure":"0.54MPa","mpd":0.662,"pct":5.0},{"panel":"f","pressure":"0.54MPa","mpd":0.689,"pct":6.2},{"panel":"f","pressure":"0.54MPa","mpd":0.702,"pct":7.2},{"panel":"f","pressure":"0.54MPa","mpd":0.809,"pct":8.7},{"panel":"f","pressure":"0.54MPa","mpd":0.867,"pct":7.0},{"panel":"f","pressure":"0.54MPa","mpd":0.915,"pct":7.9},{"panel":"f","pressure":"0.54MPa","mpd":0.973,"pct":8.8},{"panel":"f","pressure":"0.54MPa","mpd":0.973,"pct":6.9},{"panel":"f","pressure":"0.54MPa","mpd":1.035,"pct":7.9},{"panel":"f","pressure":"0.54MPa","mpd":1.101,"pct":8.2},{"panel":"f","pressure":"0.54MPa","mpd":1.194,"pct":6.9},
      {"panel":"f","pressure":"0.73MPa","mpd":0.29,"pct":5.7},{"panel":"f","pressure":"0.73MPa","mpd":0.351,"pct":5.0},{"panel":"f","pressure":"0.73MPa","mpd":0.351,"pct":6.7},{"panel":"f","pressure":"0.73MPa","mpd":0.383,"pct":7.4},{"panel":"f","pressure":"0.73MPa","mpd":0.423,"pct":7.8},{"panel":"f","pressure":"0.73MPa","mpd":0.436,"pct":6.6},{"panel":"f","pressure":"0.73MPa","mpd":0.41,"pct":9.2},{"panel":"f","pressure":"0.73MPa","mpd":0.436,"pct":9.8},{"panel":"f","pressure":"0.73MPa","mpd":0.476,"pct":4.8},{"panel":"f","pressure":"0.73MPa","mpd":0.489,"pct":11.1},{"panel":"f","pressure":"0.73MPa","mpd":0.516,"pct":10.5},{"panel":"f","pressure":"0.73MPa","mpd":0.516,"pct":8.2},{"panel":"f","pressure":"0.73MPa","mpd":0.569,"pct":8.2},{"panel":"f","pressure":"0.73MPa","mpd":0.569,"pct":13.9},{"panel":"f","pressure":"0.73MPa","mpd":0.582,"pct":12.6},{"panel":"f","pressure":"0.73MPa","mpd":0.596,"pct":11.5},{"panel":"f","pressure":"0.73MPa","mpd":0.622,"pct":16.5},{"panel":"f","pressure":"0.73MPa","mpd":0.649,"pct":8.6},{"panel":"f","pressure":"0.73MPa","mpd":0.662,"pct":11.3},{"panel":"f","pressure":"0.73MPa","mpd":0.676,"pct":13.7},{"panel":"f","pressure":"0.73MPa","mpd":0.702,"pct":9.9},{"panel":"f","pressure":"0.73MPa","mpd":0.689,"pct":11.7},{"panel":"f","pressure":"0.73MPa","mpd":0.649,"pct":7.6},{"panel":"f","pressure":"0.73MPa","mpd":0.809,"pct":9.6},{"panel":"f","pressure":"0.73MPa","mpd":0.867,"pct":10.6},{"panel":"f","pressure":"0.73MPa","mpd":0.915,"pct":9.5},{"panel":"f","pressure":"0.73MPa","mpd":0.973,"pct":12.7},{"panel":"f","pressure":"0.73MPa","mpd":0.973,"pct":9.7},{"panel":"f","pressure":"0.73MPa","mpd":1.035,"pct":9.7},{"panel":"f","pressure":"0.73MPa","mpd":1.101,"pct":9.9},{"panel":"f","pressure":"0.73MPa","mpd":1.194,"pct":7.2},

      {"panel":"g","pressure":"0.18MPa","mpd":0.431,"pct":0.17},{"panel":"g","pressure":"0.18MPa","mpd":0.516,"pct":0.58},{"panel":"g","pressure":"0.18MPa","mpd":0.55,"pct":1.13},{"panel":"g","pressure":"0.18MPa","mpd":0.617,"pct":0.68},{"panel":"g","pressure":"0.18MPa","mpd":0.644,"pct":1.03},{"panel":"g","pressure":"0.18MPa","mpd":0.657,"pct":0.83},{"panel":"g","pressure":"0.18MPa","mpd":0.67,"pct":0.68},{"panel":"g","pressure":"0.18MPa","mpd":0.63,"pct":0.58},{"panel":"g","pressure":"0.18MPa","mpd":1.2,"pct":0.78},
      {"panel":"g","pressure":"0.35MPa","mpd":0.391,"pct":0.53},{"panel":"g","pressure":"0.35MPa","mpd":0.444,"pct":0.27},{"panel":"g","pressure":"0.35MPa","mpd":0.457,"pct":0.98},{"panel":"g","pressure":"0.35MPa","mpd":0.511,"pct":1.18},{"panel":"g","pressure":"0.35MPa","mpd":0.524,"pct":1.84},{"panel":"g","pressure":"0.35MPa","mpd":0.55,"pct":1.94},{"panel":"g","pressure":"0.35MPa","mpd":0.59,"pct":0.98},{"panel":"g","pressure":"0.35MPa","mpd":0.59,"pct":1.38},{"panel":"g","pressure":"0.35MPa","mpd":0.604,"pct":1.94},{"panel":"g","pressure":"0.35MPa","mpd":0.63,"pct":2.14},{"panel":"g","pressure":"0.35MPa","mpd":0.657,"pct":1.64},{"panel":"g","pressure":"0.35MPa","mpd":0.684,"pct":1.54},{"panel":"g","pressure":"0.35MPa","mpd":0.691,"pct":1.94},{"panel":"g","pressure":"0.35MPa","mpd":0.71,"pct":0.58},{"panel":"g","pressure":"0.35MPa","mpd":0.644,"pct":1.03},{"panel":"g","pressure":"0.35MPa","mpd":0.816,"pct":2.19},{"panel":"g","pressure":"0.35MPa","mpd":0.87,"pct":2.14},{"panel":"g","pressure":"0.35MPa","mpd":0.915,"pct":2.55},{"panel":"g","pressure":"0.35MPa","mpd":0.976,"pct":2.8},{"panel":"g","pressure":"0.35MPa","mpd":0.976,"pct":3.15},{"panel":"g","pressure":"0.35MPa","mpd":1.035,"pct":3.25},{"panel":"g","pressure":"0.35MPa","mpd":1.104,"pct":3.1},{"panel":"g","pressure":"0.35MPa","mpd":1.2,"pct":3.2},
      {"panel":"g","pressure":"0.54MPa","mpd":0.391,"pct":0.32},{"panel":"g","pressure":"0.54MPa","mpd":0.404,"pct":1.23},{"panel":"g","pressure":"0.54MPa","mpd":0.431,"pct":0.83},{"panel":"g","pressure":"0.54MPa","mpd":0.444,"pct":1.43},{"panel":"g","pressure":"0.54MPa","mpd":0.564,"pct":2.8},{"panel":"g","pressure":"0.54MPa","mpd":0.59,"pct":4.57},{"panel":"g","pressure":"0.54MPa","mpd":0.604,"pct":3.66},{"panel":"g","pressure":"0.54MPa","mpd":0.617,"pct":3.96},{"panel":"g","pressure":"0.54MPa","mpd":0.63,"pct":3.25},{"panel":"g","pressure":"0.54MPa","mpd":0.657,"pct":3.05},{"panel":"g","pressure":"0.54MPa","mpd":0.67,"pct":3.45},{"panel":"g","pressure":"0.54MPa","mpd":0.684,"pct":4.67},{"panel":"g","pressure":"0.54MPa","mpd":0.697,"pct":2.65},{"panel":"g","pressure":"0.54MPa","mpd":0.71,"pct":2.44},{"panel":"g","pressure":"0.54MPa","mpd":0.71,"pct":5.17},{"panel":"g","pressure":"0.54MPa","mpd":0.816,"pct":6.64},{"panel":"g","pressure":"0.54MPa","mpd":0.87,"pct":3.66},{"panel":"g","pressure":"0.54MPa","mpd":0.915,"pct":5.57},{"panel":"g","pressure":"0.54MPa","mpd":0.976,"pct":4.47},{"panel":"g","pressure":"0.54MPa","mpd":0.976,"pct":3.76},{"panel":"g","pressure":"0.54MPa","mpd":1.035,"pct":6.08},{"panel":"g","pressure":"0.54MPa","mpd":1.104,"pct":4.77},{"panel":"g","pressure":"0.54MPa","mpd":1.2,"pct":5.27},
      {"panel":"g","pressure":"0.73MPa","mpd":0.351,"pct":1.84},{"panel":"g","pressure":"0.73MPa","mpd":0.364,"pct":1.43},{"panel":"g","pressure":"0.73MPa","mpd":0.391,"pct":1.89},{"panel":"g","pressure":"0.73MPa","mpd":0.404,"pct":3.0},{"panel":"g","pressure":"0.73MPa","mpd":0.431,"pct":3.61},{"panel":"g","pressure":"0.73MPa","mpd":0.444,"pct":2.44},{"panel":"g","pressure":"0.73MPa","mpd":0.444,"pct":2.14},{"panel":"g","pressure":"0.73MPa","mpd":0.492,"pct":6.48},{"panel":"g","pressure":"0.73MPa","mpd":0.519,"pct":6.94},{"panel":"g","pressure":"0.73MPa","mpd":0.519,"pct":3.86},{"panel":"g","pressure":"0.73MPa","mpd":0.55,"pct":5.07},{"panel":"g","pressure":"0.73MPa","mpd":0.564,"pct":5.57},{"panel":"g","pressure":"0.73MPa","mpd":0.577,"pct":4.06},{"panel":"g","pressure":"0.73MPa","mpd":0.598,"pct":5.78},{"panel":"g","pressure":"0.73MPa","mpd":0.604,"pct":6.69},{"panel":"g","pressure":"0.73MPa","mpd":0.617,"pct":8.81},{"panel":"g","pressure":"0.73MPa","mpd":0.63,"pct":5.47},{"panel":"g","pressure":"0.73MPa","mpd":0.657,"pct":4.06},{"panel":"g","pressure":"0.73MPa","mpd":0.67,"pct":5.07},{"panel":"g","pressure":"0.73MPa","mpd":0.684,"pct":8.0},{"panel":"g","pressure":"0.73MPa","mpd":0.689,"pct":7.5},{"panel":"g","pressure":"0.73MPa","mpd":0.697,"pct":6.89},{"panel":"g","pressure":"0.73MPa","mpd":0.705,"pct":5.78},{"panel":"g","pressure":"0.73MPa","mpd":0.71,"pct":6.99},{"panel":"g","pressure":"0.73MPa","mpd":0.816,"pct":8.81},{"panel":"g","pressure":"0.73MPa","mpd":0.87,"pct":6.64},{"panel":"g","pressure":"0.73MPa","mpd":0.915,"pct":8.2},{"panel":"g","pressure":"0.73MPa","mpd":0.976,"pct":7.09},{"panel":"g","pressure":"0.73MPa","mpd":1.035,"pct":8.2},{"panel":"g","pressure":"0.73MPa","mpd":1.104,"pct":7.95},{"panel":"g","pressure":"0.73MPa","mpd":1.2,"pct":6.84},

      {"panel":"h","pressure":"0.18MPa","mpd":0.551,"pct":0.72},{"panel":"h","pressure":"0.18MPa","mpd":0.631,"pct":0.31},{"panel":"h","pressure":"0.18MPa","mpd":0.671,"pct":0.39},
      {"panel":"h","pressure":"0.35MPa","mpd":0.517,"pct":0.43},{"panel":"h","pressure":"0.35MPa","mpd":0.551,"pct":1.1},{"panel":"h","pressure":"0.35MPa","mpd":0.583,"pct":0.23},{"panel":"h","pressure":"0.35MPa","mpd":0.618,"pct":1.3},{"panel":"h","pressure":"0.35MPa","mpd":0.645,"pct":0.85},{"panel":"h","pressure":"0.35MPa","mpd":0.671,"pct":0.39},{"panel":"h","pressure":"0.35MPa","mpd":0.698,"pct":0.31},{"panel":"h","pressure":"0.35MPa","mpd":0.698,"pct":1.05},{"panel":"h","pressure":"0.35MPa","mpd":0.871,"pct":0.68},{"panel":"h","pressure":"0.35MPa","mpd":0.911,"pct":1.59},{"panel":"h","pressure":"0.35MPa","mpd":0.978,"pct":0.76},{"panel":"h","pressure":"0.35MPa","mpd":0.978,"pct":1.55},{"panel":"h","pressure":"0.35MPa","mpd":1.031,"pct":1.14},{"panel":"h","pressure":"0.35MPa","mpd":1.205,"pct":1.97},
      {"panel":"h","pressure":"0.54MPa","mpd":0.551,"pct":1.55},{"panel":"h","pressure":"0.54MPa","mpd":0.578,"pct":2.71},{"panel":"h","pressure":"0.54MPa","mpd":0.605,"pct":1.3},{"panel":"h","pressure":"0.54MPa","mpd":0.618,"pct":2.13},{"panel":"h","pressure":"0.54MPa","mpd":0.645,"pct":1.72},{"panel":"h","pressure":"0.54MPa","mpd":0.658,"pct":1.88},{"panel":"h","pressure":"0.54MPa","mpd":0.671,"pct":1.47},{"panel":"h","pressure":"0.54MPa","mpd":0.685,"pct":1.3},{"panel":"h","pressure":"0.54MPa","mpd":0.698,"pct":2.38},{"panel":"h","pressure":"0.54MPa","mpd":0.711,"pct":0.39},{"panel":"h","pressure":"0.54MPa","mpd":0.818,"pct":1.01},{"panel":"h","pressure":"0.54MPa","mpd":0.871,"pct":1.97},{"panel":"h","pressure":"0.54MPa","mpd":0.911,"pct":2.46},{"panel":"h","pressure":"0.54MPa","mpd":0.978,"pct":1.05},{"panel":"h","pressure":"0.54MPa","mpd":1.031,"pct":1.84},{"panel":"h","pressure":"0.54MPa","mpd":1.205,"pct":3.37},
      {"panel":"h","pressure":"0.73MPa","mpd":0.378,"pct":0.43},{"panel":"h","pressure":"0.73MPa","mpd":0.431,"pct":0.35},{"panel":"h","pressure":"0.73MPa","mpd":0.498,"pct":2.21},{"panel":"h","pressure":"0.73MPa","mpd":0.511,"pct":1.92},{"panel":"h","pressure":"0.73MPa","mpd":0.525,"pct":2.63},{"panel":"h","pressure":"0.73MPa","mpd":0.551,"pct":3.08},{"panel":"h","pressure":"0.73MPa","mpd":0.578,"pct":1.55},{"panel":"h","pressure":"0.73MPa","mpd":0.591,"pct":2.3},{"panel":"h","pressure":"0.73MPa","mpd":0.6,"pct":2.88},{"panel":"h","pressure":"0.73MPa","mpd":0.618,"pct":3.46},{"panel":"h","pressure":"0.73MPa","mpd":0.645,"pct":3.29},{"panel":"h","pressure":"0.73MPa","mpd":0.658,"pct":2.34},{"panel":"h","pressure":"0.73MPa","mpd":0.671,"pct":3.54},{"panel":"h","pressure":"0.73MPa","mpd":0.685,"pct":3.75},{"panel":"h","pressure":"0.73MPa","mpd":0.69,"pct":2.63},{"panel":"h","pressure":"0.73MPa","mpd":0.698,"pct":2.21},{"panel":"h","pressure":"0.73MPa","mpd":0.711,"pct":4.62},{"panel":"h","pressure":"0.73MPa","mpd":0.818,"pct":6.65},{"panel":"h","pressure":"0.73MPa","mpd":0.871,"pct":3.25},{"panel":"h","pressure":"0.73MPa","mpd":0.911,"pct":5.44},{"panel":"h","pressure":"0.73MPa","mpd":0.978,"pct":4.41},{"panel":"h","pressure":"0.73MPa","mpd":0.978,"pct":1.39},{"panel":"h","pressure":"0.73MPa","mpd":1.031,"pct":5.78},{"panel":"h","pressure":"0.73MPa","mpd":1.106,"pct":5.11},{"panel":"h","pressure":"0.73MPa","mpd":1.205,"pct":5.49},

      {"panel":"i","pressure":"0.18MPa","mpd":0.55,"pct":0.31},{"panel":"i","pressure":"0.18MPa","mpd":0.653,"pct":0.12},{"panel":"i","pressure":"0.18MPa","mpd":0.653,"pct":0.56},
      {"panel":"i","pressure":"0.35MPa","mpd":0.55,"pct":0.42},{"panel":"i","pressure":"0.35MPa","mpd":0.618,"pct":0.77},{"panel":"i","pressure":"0.35MPa","mpd":0.653,"pct":0.29},{"panel":"i","pressure":"0.35MPa","mpd":0.659,"pct":0.63},{"panel":"i","pressure":"0.35MPa","mpd":0.912,"pct":0.52},{"panel":"i","pressure":"0.35MPa","mpd":0.972,"pct":0.44},{"panel":"i","pressure":"0.35MPa","mpd":1.198,"pct":1.13},
      {"panel":"i","pressure":"0.54MPa","mpd":0.55,"pct":0.54},{"panel":"i","pressure":"0.54MPa","mpd":0.585,"pct":1.46},{"panel":"i","pressure":"0.54MPa","mpd":0.612,"pct":1.29},{"panel":"i","pressure":"0.54MPa","mpd":0.599,"pct":0.44},{"panel":"i","pressure":"0.54MPa","mpd":0.653,"pct":0.81},{"panel":"i","pressure":"0.54MPa","mpd":0.659,"pct":0.69},{"panel":"i","pressure":"0.54MPa","mpd":0.667,"pct":1.42},{"panel":"i","pressure":"0.54MPa","mpd":0.694,"pct":1.31},{"panel":"i","pressure":"0.54MPa","mpd":1.198,"pct":2.0},
      {"panel":"i","pressure":"0.73MPa","mpd":0.517,"pct":0.75},{"panel":"i","pressure":"0.73MPa","mpd":0.552,"pct":1.92},{"panel":"i","pressure":"0.73MPa","mpd":0.585,"pct":0.6},{"panel":"i","pressure":"0.73MPa","mpd":0.585,"pct":0.23},{"panel":"i","pressure":"0.73MPa","mpd":0.618,"pct":2.33},{"panel":"i","pressure":"0.73MPa","mpd":0.653,"pct":2.17},{"panel":"i","pressure":"0.73MPa","mpd":0.661,"pct":2.08},{"panel":"i","pressure":"0.73MPa","mpd":0.653,"pct":1.1},{"panel":"i","pressure":"0.73MPa","mpd":0.681,"pct":0.48},{"panel":"i","pressure":"0.73MPa","mpd":0.713,"pct":0.9},{"panel":"i","pressure":"0.73MPa","mpd":0.817,"pct":0.9},{"panel":"i","pressure":"0.73MPa","mpd":0.871,"pct":1.02},{"panel":"i","pressure":"0.73MPa","mpd":0.912,"pct":2.25},{"panel":"i","pressure":"0.73MPa","mpd":0.972,"pct":1.63},{"panel":"i","pressure":"0.73MPa","mpd":1.198,"pct":3.48},

      {"panel":"j","pressure":"0.18MPa","mpd":0.617,"pct":0.33},
      {"panel":"j","pressure":"0.35MPa","mpd":0.617,"pct":0.37},{"panel":"j","pressure":"0.35MPa","mpd":0.666,"pct":0.3},
      {"panel":"j","pressure":"0.54MPa","mpd":0.584,"pct":0.33},{"panel":"j","pressure":"0.54MPa","mpd":0.617,"pct":0.62},{"panel":"j","pressure":"0.54MPa","mpd":0.671,"pct":0.68},{"panel":"j","pressure":"0.54MPa","mpd":0.666,"pct":0.35},
      {"panel":"j","pressure":"0.73MPa","mpd":0.554,"pct":1.15},{"panel":"j","pressure":"0.73MPa","mpd":0.617,"pct":1.62},{"panel":"j","pressure":"0.73MPa","mpd":0.658,"pct":1.51},{"panel":"j","pressure":"0.73MPa","mpd":0.671,"pct":1.43},{"panel":"j","pressure":"0.73MPa","mpd":0.649,"pct":1.31},{"panel":"j","pressure":"0.73MPa","mpd":0.652,"pct":0.43},{"panel":"j","pressure":"0.73MPa","mpd":0.712,"pct":0.32},{"panel":"j","pressure":"0.73MPa","mpd":1.201,"pct":2.06}
    ]
  },
  "data": {"name": "pts"},
  "columns": 4,
  "bounds": "flush",
  "spacing": {"row": 222, "column": 191},
  "concat": [
    {
      "width": 590, "height": 372,
      "layer": [
        {
          "transform": [{"filter": "datum.panel === 'a'"}],
          "mark": {"type": "point", "filled": true, "opacity": 1},
          "encoding": {
            "x": {"field": "mpd", "type": "quantitative", "scale": {"domain": [0, 1.5], "nice": false}, "axis": {"values": [0, 0.25, 0.5, 0.75, 1, 1.25, 1.5], "format": ".1f", "labelExpr": "abs(datum.value*2 - round(datum.value*2)) < 0.001 ? datum.label : ''", "title": "MPD (mm)"}},
            "y": {"field": "pct", "type": "quantitative", "scale": {"domain": [0, 35.2], "nice": false, "zero": false}, "axis": {"values": [0, 5, 10, 15, 20, 25, 30, 35], "labelExpr": "abs(datum.value/10 - round(datum.value/10)) < 0.001 ? datum.label : ''", "tickSize": {"condition": {"test": "abs(datum.value/10 - round(datum.value/10)) < 0.001", "value": 10}, "value": 6}, "title": ["Stress area", "percentage (%)"]}},
            "color": {"field": "pressure", "type": "nominal", "title": null, "scale": {"domain": ["0.18MPa", "0.35MPa", "0.54MPa", "0.73MPa"], "range": ["#000000", "#ff0000", "#808000", "#00866a"]}, "legend": {"orient": "none", "legendX": -102, "legendY": -129, "direction": "horizontal", "columns": 4}},
            "shape": {"field": "pressure", "type": "nominal", "title": null, "scale": {"domain": ["0.18MPa", "0.35MPa", "0.54MPa", "0.73MPa"], "range": ["square", "circle", "triangle-up", "triangle-down"]}, "legend": {"orient": "none", "legendX": -102, "legendY": -129, "direction": "horizontal", "columns": 4}},
            "size": {"condition": [{"test": "datum.pressure === '0.18MPa'", "value": 420}, {"test": "datum.pressure === '0.35MPa'", "value": 580}], "value": 900}
          }
        },
        {
          "data": {"values": [{"tag": "(a)"}]},
          "mark": {"type": "text", "align": "right", "baseline": "alphabetic", "font": "Liberation Serif", "fontSize": 88, "fontWeight": "normal", "color": "black"},
          "encoding": {
            "x": {"datum": 1.46, "type": "quantitative"},
            "y": {"datum": 26.5, "type": "quantitative"},
            "text": {"field": "tag"}
          }
        }
      ]
    },
    {
      "width": 590, "height": 372,
      "layer": [
        {
          "transform": [{"filter": "datum.panel === 'b'"}],
          "mark": {"type": "point", "filled": true, "opacity": 1},
          "encoding": {
            "x": {"field": "mpd", "type": "quantitative", "scale": {"domain": [0, 1.5], "nice": false}, "axis": {"values": [0, 0.25, 0.5, 0.75, 1, 1.25, 1.5], "format": ".1f", "labelExpr": "abs(datum.value*2 - round(datum.value*2)) < 0.001 ? datum.label : ''", "title": "MPD (mm)"}},
            "y": {"field": "pct", "type": "quantitative", "scale": {"domain": [0, 35.2], "nice": false, "zero": false}, "axis": {"values": [0, 5, 10, 15, 20, 25, 30, 35], "labelExpr": "abs(datum.value/10 - round(datum.value/10)) < 0.001 ? datum.label : ''", "tickSize": {"condition": {"test": "abs(datum.value/10 - round(datum.value/10)) < 0.001", "value": 10}, "value": 6}, "title": null}},
            "color": {"field": "pressure", "type": "nominal", "title": null},
            "shape": {"field": "pressure", "type": "nominal", "title": null},
            "size": {"condition": [{"test": "datum.pressure === '0.18MPa'", "value": 420}, {"test": "datum.pressure === '0.35MPa'", "value": 580}], "value": 900}
          }
        },
        {
          "data": {"values": [{"tag": "(b)"}]},
          "mark": {"type": "text", "align": "right", "baseline": "alphabetic", "font": "Liberation Serif", "fontSize": 88, "fontWeight": "normal", "color": "black"},
          "encoding": {
            "x": {"datum": 1.46, "type": "quantitative"},
            "y": {"datum": 26.5, "type": "quantitative"},
            "text": {"field": "tag"}
          }
        }
      ]
    },
    {
      "width": 590, "height": 372,
      "layer": [
        {
          "transform": [{"filter": "datum.panel === 'c'"}],
          "mark": {"type": "point", "filled": true, "opacity": 1},
          "encoding": {
            "x": {"field": "mpd", "type": "quantitative", "scale": {"domain": [0, 1.5], "nice": false}, "axis": {"values": [0, 0.25, 0.5, 0.75, 1, 1.25, 1.5], "format": ".1f", "labelExpr": "abs(datum.value*2 - round(datum.value*2)) < 0.001 ? datum.label : ''", "title": "MPD (mm)"}},
            "y": {"field": "pct", "type": "quantitative", "scale": {"domain": [3.2, 41], "nice": false, "zero": false}, "axis": {"values": [5, 10, 15, 20, 25, 30, 35, 40], "labelExpr": "abs(datum.value/10 - round(datum.value/10)) < 0.001 ? datum.label : ''", "tickSize": {"condition": {"test": "abs(datum.value/10 - round(datum.value/10)) < 0.001", "value": 10}, "value": 6}, "title": null}},
            "color": {"field": "pressure", "type": "nominal", "title": null},
            "shape": {"field": "pressure", "type": "nominal", "title": null},
            "size": {"condition": [{"test": "datum.pressure === '0.18MPa'", "value": 420}, {"test": "datum.pressure === '0.35MPa'", "value": 580}], "value": 900}
          }
        },
        {
          "data": {"values": [{"tag": "(c)"}]},
          "mark": {"type": "text", "align": "right", "baseline": "alphabetic", "font": "Liberation Serif", "fontSize": 88, "fontWeight": "normal", "color": "black"},
          "encoding": {
            "x": {"datum": 1.46, "type": "quantitative"},
            "y": {"datum": 31.66, "type": "quantitative"},
            "text": {"field": "tag"}
          }
        }
      ]
    },
    {
      "width": 590, "height": 372,
      "layer": [
        {
          "transform": [{"filter": "datum.panel === 'd'"}],
          "mark": {"type": "point", "filled": true, "opacity": 1},
          "encoding": {
            "x": {"field": "mpd", "type": "quantitative", "scale": {"domain": [0, 1.5], "nice": false}, "axis": {"values": [0, 0.25, 0.5, 0.75, 1, 1.25, 1.5], "format": ".1f", "labelExpr": "abs(datum.value*2 - round(datum.value*2)) < 0.001 ? datum.label : ''", "title": "MPD (mm)"}},
            "y": {"field": "pct", "type": "quantitative", "scale": {"domain": [0.8, 31.1], "nice": false, "zero": false}, "axis": {"values": [5, 10, 15, 20, 25, 30], "labelExpr": "abs(datum.value/10 - round(datum.value/10)) < 0.001 ? datum.label : ''", "tickSize": {"condition": {"test": "abs(datum.value/10 - round(datum.value/10)) < 0.001", "value": 10}, "value": 6}, "title": null}},
            "color": {"field": "pressure", "type": "nominal", "title": null},
            "shape": {"field": "pressure", "type": "nominal", "title": null},
            "size": {"condition": [{"test": "datum.pressure === '0.18MPa'", "value": 420}, {"test": "datum.pressure === '0.35MPa'", "value": 580}], "value": 900}
          }
        },
        {
          "data": {"values": [{"tag": "(d)"}]},
          "mark": {"type": "text", "align": "right", "baseline": "alphabetic", "font": "Liberation Serif", "fontSize": 88, "fontWeight": "normal", "color": "black"},
          "encoding": {
            "x": {"datum": 1.46, "type": "quantitative"},
            "y": {"datum": 23.62, "type": "quantitative"},
            "text": {"field": "tag"}
          }
        }
      ]
    },
    {
      "width": 590, "height": 372,
      "layer": [
        {
          "transform": [{"filter": "datum.panel === 'e'"}],
          "mark": {"type": "point", "filled": true, "opacity": 1},
          "encoding": {
            "x": {"field": "mpd", "type": "quantitative", "scale": {"domain": [0, 1.5], "nice": false}, "axis": {"values": [0, 0.25, 0.5, 0.75, 1, 1.25, 1.5], "format": ".1f", "labelExpr": "abs(datum.value*2 - round(datum.value*2)) < 0.001 ? datum.label : ''", "title": "MPD (mm)"}},
            "y": {"field": "pct", "type": "quantitative", "scale": {"domain": [0, 22.5], "nice": false, "zero": false}, "axis": {"values": [0, 2.5, 5, 7.5, 10, 12.5, 15, 17.5, 20], "format": ".0f", "labelExpr": "abs(datum.value/5 - round(datum.value/5)) < 0.001 ? datum.label : ''", "tickSize": {"condition": {"test": "abs(datum.value/5 - round(datum.value/5)) < 0.001", "value": 10}, "value": 6}, "title": ["Stress area", "percentage (%)"]}},
            "color": {"field": "pressure", "type": "nominal", "title": null},
            "shape": {"field": "pressure", "type": "nominal", "title": null},
            "size": {"condition": [{"test": "datum.pressure === '0.18MPa'", "value": 420}, {"test": "datum.pressure === '0.35MPa'", "value": 580}], "value": 900}
          }
        },
        {
          "data": {"values": [{"tag": "(e)"}]},
          "mark": {"type": "text", "align": "right", "baseline": "alphabetic", "font": "Liberation Serif", "fontSize": 88, "fontWeight": "normal", "color": "black"},
          "encoding": {
            "x": {"datum": 1.46, "type": "quantitative"},
            "y": {"datum": 16.94, "type": "quantitative"},
            "text": {"field": "tag"}
          }
        }
      ]
    },
    {
      "width": 590, "height": 372,
      "layer": [
        {
          "transform": [{"filter": "datum.panel === 'f'"}],
          "mark": {"type": "point", "filled": true, "opacity": 1},
          "encoding": {
            "x": {"field": "mpd", "type": "quantitative", "scale": {"domain": [0, 1.5], "nice": false}, "axis": {"values": [0, 0.25, 0.5, 0.75, 1, 1.25, 1.5], "format": ".1f", "labelExpr": "abs(datum.value*2 - round(datum.value*2)) < 0.001 ? datum.label : ''", "title": "MPD (mm)"}},
            "y": {"field": "pct", "type": "quantitative", "scale": {"domain": [-1.05, 18], "nice": false, "zero": false}, "axis": {"values": [0, 2.5, 5, 7.5, 10, 12.5, 15, 17.5], "format": ".0f", "labelExpr": "abs(datum.value/5 - round(datum.value/5)) < 0.001 ? datum.label : ''", "tickSize": {"condition": {"test": "abs(datum.value/5 - round(datum.value/5)) < 0.001", "value": 10}, "value": 6}, "title": null}},
            "color": {"field": "pressure", "type": "nominal", "title": null},
            "shape": {"field": "pressure", "type": "nominal", "title": null},
            "size": {"condition": [{"test": "datum.pressure === '0.18MPa'", "value": 420}, {"test": "datum.pressure === '0.35MPa'", "value": 580}], "value": 900}
          }
        },
        {
          "data": {"values": [{"tag": "(f)"}]},
          "mark": {"type": "text", "align": "right", "baseline": "alphabetic", "font": "Liberation Serif", "fontSize": 88, "fontWeight": "normal", "color": "black"},
          "encoding": {
            "x": {"datum": 1.46, "type": "quantitative"},
            "y": {"datum": 13.29, "type": "quantitative"},
            "text": {"field": "tag"}
          }
        }
      ]
    },
    {
      "width": 590, "height": 372,
      "layer": [
        {
          "transform": [{"filter": "datum.panel === 'g'"}],
          "mark": {"type": "point", "filled": true, "opacity": 1},
          "encoding": {
            "x": {"field": "mpd", "type": "quantitative", "scale": {"domain": [0, 1.5], "nice": false}, "axis": {"values": [0, 0.25, 0.5, 0.75, 1, 1.25, 1.5], "format": ".1f", "labelExpr": "abs(datum.value*2 - round(datum.value*2)) < 0.001 ? datum.label : ''", "title": "MPD (mm)"}},
            "y": {"field": "pct", "type": "quantitative", "scale": {"domain": [-0.26, 9.5], "nice": false, "zero": false}, "axis": {"values": [0, 1, 2, 3, 4, 5, 6, 7, 8, 9], "labelExpr": "abs(datum.value/2 - round(datum.value/2)) < 0.001 ? datum.label : ''", "tickSize": {"condition": {"test": "abs(datum.value/2 - round(datum.value/2)) < 0.001", "value": 10}, "value": 6}, "title": null}},
            "color": {"field": "pressure", "type": "nominal", "title": null},
            "shape": {"field": "pressure", "type": "nominal", "title": null},
            "size": {"condition": [{"test": "datum.pressure === '0.18MPa'", "value": 420}, {"test": "datum.pressure === '0.35MPa'", "value": 580}], "value": 900}
          }
        },
        {
          "data": {"values": [{"tag": "(g)"}]},
          "mark": {"type": "text", "align": "right", "baseline": "alphabetic", "font": "Liberation Serif", "fontSize": 88, "fontWeight": "normal", "color": "black"},
          "encoding": {
            "x": {"datum": 1.46, "type": "quantitative"},
            "y": {"datum": 7.09, "type": "quantitative"},
            "text": {"field": "tag"}
          }
        }
      ]
    },
    {
      "width": 590, "height": 372,
      "layer": [
        {
          "transform": [{"filter": "datum.panel === 'h'"}],
          "mark": {"type": "point", "filled": true, "opacity": 1},
          "encoding": {
            "x": {"field": "mpd", "type": "quantitative", "scale": {"domain": [0, 1.5], "nice": false}, "axis": {"values": [0, 0.25, 0.5, 0.75, 1, 1.25, 1.5], "format": ".1f", "labelExpr": "abs(datum.value*2 - round(datum.value*2)) < 0.001 ? datum.label : ''", "title": "MPD (mm)"}},
            "y": {"field": "pct", "type": "quantitative", "scale": {"domain": [-0.5, 7.5], "nice": false, "zero": false}, "axis": {"values": [0, 1, 2, 3, 4, 5, 6, 7], "labelExpr": "abs(datum.value/2 - round(datum.value/2)) < 0.001 ? datum.label : ''", "tickSize": {"condition": {"test": "abs(datum.value/2 - round(datum.value/2)) < 0.001", "value": 10}, "value": 6}, "title": null}},
            "color": {"field": "pressure", "type": "nominal", "title": null},
            "shape": {"field": "pressure", "type": "nominal", "title": null},
            "size": {"condition": [{"test": "datum.pressure === '0.18MPa'", "value": 420}, {"test": "datum.pressure === '0.35MPa'", "value": 580}], "value": 900}
          }
        },
        {
          "data": {"values": [{"tag": "(h)"}]},
          "mark": {"type": "text", "align": "right", "baseline": "alphabetic", "font": "Liberation Serif", "fontSize": 88, "fontWeight": "normal", "color": "black"},
          "encoding": {
            "x": {"datum": 1.46, "type": "quantitative"},
            "y": {"datum": 5.52, "type": "quantitative"},
            "text": {"field": "tag"}
          }
        }
      ]
    },
    {
      "width": 590, "height": 372,
      "data": {"values": [{"k": 0}]},
      "mark": {"type": "point", "opacity": 0},
      "view": {"stroke": null}
    },
    {
      "width": 590, "height": 372,
      "layer": [
        {
          "transform": [{"filter": "datum.panel === 'i'"}],
          "mark": {"type": "point", "filled": true, "opacity": 1},
          "encoding": {
            "x": {"field": "mpd", "type": "quantitative", "scale": {"domain": [0, 1.5], "nice": false}, "axis": {"values": [0, 0.25, 0.5, 0.75, 1, 1.25, 1.5], "format": ".1f", "labelExpr": "abs(datum.value*2 - round(datum.value*2)) < 0.001 ? datum.label : ''", "title": "MPD (mm)"}},
            "y": {"field": "pct", "type": "quantitative", "scale": {"domain": [-0.1, 3.8], "nice": false, "zero": false}, "axis": {"values": [0, 0.5, 1, 1.5, 2, 2.5, 3, 3.5], "format": ".0f", "labelExpr": "abs(datum.value - round(datum.value)) < 0.001 ? datum.label : ''", "tickSize": {"condition": {"test": "abs(datum.value - round(datum.value)) < 0.001", "value": 10}, "value": 6}, "title": ["Stress area", "percentage (%)"]}},
            "color": {"field": "pressure", "type": "nominal", "title": null},
            "shape": {"field": "pressure", "type": "nominal", "title": null},
            "size": {"condition": [{"test": "datum.pressure === '0.18MPa'", "value": 420}, {"test": "datum.pressure === '0.35MPa'", "value": 580}], "value": 900}
          }
        },
        {
          "data": {"values": [{"tag": "(i)"}]},
          "mark": {"type": "text", "align": "right", "baseline": "alphabetic", "font": "Liberation Serif", "fontSize": 88, "fontWeight": "normal", "color": "black"},
          "encoding": {
            "x": {"datum": 1.46, "type": "quantitative"},
            "y": {"datum": 2.84, "type": "quantitative"},
            "text": {"field": "tag"}
          }
        }
      ]
    },
    {
      "width": 590, "height": 372,
      "layer": [
        {
          "transform": [{"filter": "datum.panel === 'j'"}],
          "mark": {"type": "point", "filled": true, "opacity": 1},
          "encoding": {
            "x": {"field": "mpd", "type": "quantitative", "scale": {"domain": [0, 1.5], "nice": false}, "axis": {"values": [0, 0.25, 0.5, 0.75, 1, 1.25, 1.5], "format": ".1f", "labelExpr": "abs(datum.value*2 - round(datum.value*2)) < 0.001 ? datum.label : ''", "title": "MPD (mm)"}},
            "y": {"field": "pct", "type": "quantitative", "scale": {"domain": [0, 2.24], "nice": false, "zero": false}, "axis": {"values": [0, 0.25, 0.5, 0.75, 1, 1.25, 1.5, 1.75, 2], "format": ".1f", "labelExpr": "abs(datum.value*2 - round(datum.value*2)) < 0.001 ? datum.label : ''", "tickSize": {"condition": {"test": "abs(datum.value*2 - round(datum.value*2)) < 0.001", "value": 10}, "value": 6}, "title": null}},
            "color": {"field": "pressure", "type": "nominal", "title": null},
            "shape": {"field": "pressure", "type": "nominal", "title": null},
            "size": {"condition": [{"test": "datum.pressure === '0.18MPa'", "value": 420}, {"test": "datum.pressure === '0.35MPa'", "value": 580}], "value": 900}
          }
        },
        {
          "data": {"values": [{"tag": "(j)"}]},
          "mark": {"type": "text", "align": "right", "baseline": "alphabetic", "font": "Liberation Serif", "fontSize": 88, "fontWeight": "normal", "color": "black"},
          "encoding": {
            "x": {"datum": 1.46, "type": "quantitative"},
            "y": {"datum": 1.687, "type": "quantitative"},
            "text": {"field": "tag"}
          }
        }
      ]
    }
  ],
  "config": {
    "font": "Liberation Serif",
    "view": {"stroke": "black", "strokeWidth": 3},
    "axis": {
      "labelFont": "Liberation Serif",
      "labelFontWeight": "bold",
      "labelColor": "black",
      "titleFont": "Liberation Serif",
      "titleFontWeight": "bold",
      "titleColor": "black",
      "domainColor": "black",
      "domainWidth": 3,
      "tickColor": "black",
      "tickWidth": 2,
      "labelFlush": false,
      "labelOverlap": false,
      "labelBound": false
    },
    "axisX": {
      "labelFontSize": 62,
      "titleFontSize": 62,
      "ticks": false,
      "grid": true,
      "gridDash": [5, 5],
      "gridColor": "#9a9a9a",
      "gridWidth": 1.5,
      "labelPadding": 12,
      "titlePadding": 38
    },
    "axisY": {
      "labelFontSize": 57,
      "titleFontSize": 72,
      "titleLineHeight": 82,
      "titleY": 214,
      "grid": false,
      "labelPadding": 3,
      "titlePadding": 10
    },
    "legend": {
      "labelFont": "Liberation Serif",
      "labelFontWeight": "bold",
      "labelFontSize": 60,
      "labelColor": "black",
      "labelLimit": 0,
      "labelOffset": 14,
      "symbolSize": 500,
      "symbolStrokeWidth": 0,
      "columnPadding": 32
    }
  }
}
